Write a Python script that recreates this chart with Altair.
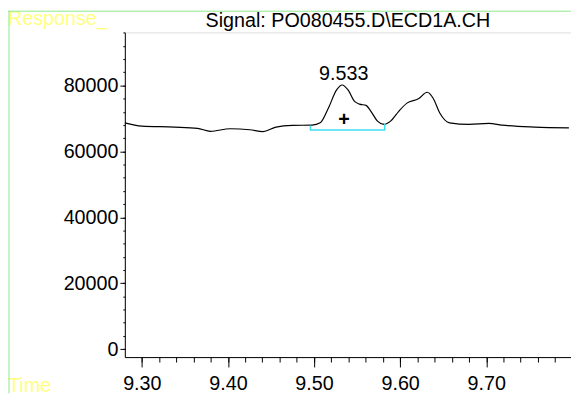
import altair as alt
import pandas as pd

# ---- data ----
times = [9.2803, 9.3000, 9.3381, 9.3647, 9.3798, 9.4026, 9.4254, 9.4407, 9.4559,
         9.4749, 9.4977, 9.5072, 9.5167, 9.5262, 9.5326, 9.5395, 9.5471, 9.5528,
         9.5604, 9.5661, 9.5737, 9.5813, 9.5889, 9.5984, 9.6079, 9.6212, 9.6315,
         9.6383, 9.6460, 9.6574, 9.6802, 9.7030, 9.7181, 9.7561, 9.7960]
response = [68660, 67670, 67380, 66990, 66090, 66870, 66570, 65970, 67380,
            67880, 67970, 68660, 73150, 78650, 80150, 78650, 75150, 74350,
            73960, 72160, 69170, 68180, 69170, 72160, 74650, 75960, 77940,
            76140, 71650, 68660, 68180, 68480, 67970, 67380, 67160]

bracket_t = [9.4958, 9.4958, 9.5821, 9.5821]
bracket_v = [67880, 66480, 66480, 68360]

peak_label = ["9.533"]
peak_t = [9.5345]
peak_v = [81650]
plus_t = [9.5347]
plus_v = [69380]

x_major = [9.30, 9.40, 9.50, 9.60, 9.70]
x_minor = [round(9.28 + 0.02 * i, 2) for i in range(27)]
y_major = [0, 20000, 40000, 60000, 80000]
y_minor = [4000 * i for i in range(25)]

title_text = ["Signal: PO080455.D\\ECD1A.CH"]
resp_text = ["Response_"]
time_text = ["Time"]

FONT = "Liberation Sans"
W, H = 452.5, 329.3
xdom = [9.2803, 9.7984]
ydom = [-2420, 96100]

trace = pd.DataFrame({"t": times, "v": response})
bracket = pd.DataFrame({"t": bracket_t, "v": bracket_v, "o": list(range(4))})
peak = pd.DataFrame({"t": peak_t, "v": peak_v, "label": peak_label})
plus = pd.DataFrame({"t": plus_t, "v": plus_v, "label": ["+"]})
one = pd.DataFrame({"title": title_text, "resp": resp_text, "time": time_text})

xs = alt.Scale(domain=xdom, nice=False, zero=False)
ys = alt.Scale(domain=ydom, nice=False, zero=False)

line = alt.Chart(trace).mark_line(color="black", strokeWidth=1.2, interpolate="monotone").encode(
    x=alt.X("t:Q", scale=xs, title=None,
            axis=alt.Axis(orient="bottom", values=x_major, format=".2f", tickSize=10,
                          labelBaseline="alphabetic", labelPadding=22.4, grid=False,
                          labelFontSize=20, labelFont=FONT, labelColor="black",
                          domainColor="black", tickColor="black")),
    y=alt.Y("v:Q", scale=ys, title=None,
            axis=alt.Axis(orient="left", values=y_major, format="d", tickSize=5,
                          labelPadding=2, grid=False, labelFontSize=20, labelFont=FONT,
                          labelColor="black", domainColor="black", tickColor="black")),
)

br = alt.Chart(bracket).mark_line(color="#3ee0f0", strokeWidth=1.5).encode(
    x=alt.X("t:Q", scale=xs, title=None,
            axis=alt.Axis(orient="bottom", values=x_minor, labels=False, domain=False,
                          tickSize=5, grid=False, tickColor="black")),
    y=alt.Y("v:Q", scale=ys, title=None,
            axis=alt.Axis(orient="left", values=y_minor, labels=False, domain=False,
                          tickSize=2, grid=False, tickColor="black")),
    order="o:Q",
)

peak_txt = alt.Chart(peak).mark_text(font=FONT, fontSize=20, color="black",
                                     baseline="alphabetic", align="center").encode(
    x=alt.X("t:Q", scale=xs, axis=None), y=alt.Y("v:Q", scale=ys, axis=None), text="label:N")

plus_txt = alt.Chart(plus).mark_text(font=FONT, fontSize=20, fontWeight="bold", color="black",
                                     baseline="middle", align="center").encode(
    x=alt.X("t:Q", scale=xs, axis=None), y=alt.Y("v:Q", scale=ys, axis=None), text="label:N")

title = alt.Chart(one).mark_text(font=FONT, fontSize=20, color="black",
                                 baseline="alphabetic", align="center").encode(
    x=alt.value(W / 2), y=alt.value(-5), text="title:N")

resp = alt.Chart(one).mark_text(font=FONT, fontSize=20, color="#ffff80",
                                baseline="alphabetic", align="left").encode(
    x=alt.value(-118.5), y=alt.value(-7.3), text="resp:N")

tlab = alt.Chart(one).mark_text(font=FONT, fontSize=20, color="#ffff80",
                                baseline="alphabetic", align="left").encode(
    x=alt.value(-118.5), y=alt.value(365), text="time:N")

gv = alt.Chart(one).mark_rule(color="#8fe88f", strokeWidth=1).encode(
    x=alt.value(-117.5), y=alt.value(-22), y2=alt.value(366))
gh = alt.Chart(one).mark_rule(color="#8fe88f", strokeWidth=1).encode(
    x=alt.value(-118.5), x2=alt.value(W), y=alt.value(-21.5))

chart = alt.layer(line, br, peak_txt, plus_txt, title, resp, tlab, gv, gh).resolve_axis(
    x="independent", y="independent"
).properties(
    width=W, height=H, autosize="none",
    padding={"left": 118.5, "top": 22, "right": 0, "bottom": 36.7},
).configure_view(stroke="transparent").configure(background="white")

chart.save("out.html", embed_options={"renderer": "svg", "actions": False})
